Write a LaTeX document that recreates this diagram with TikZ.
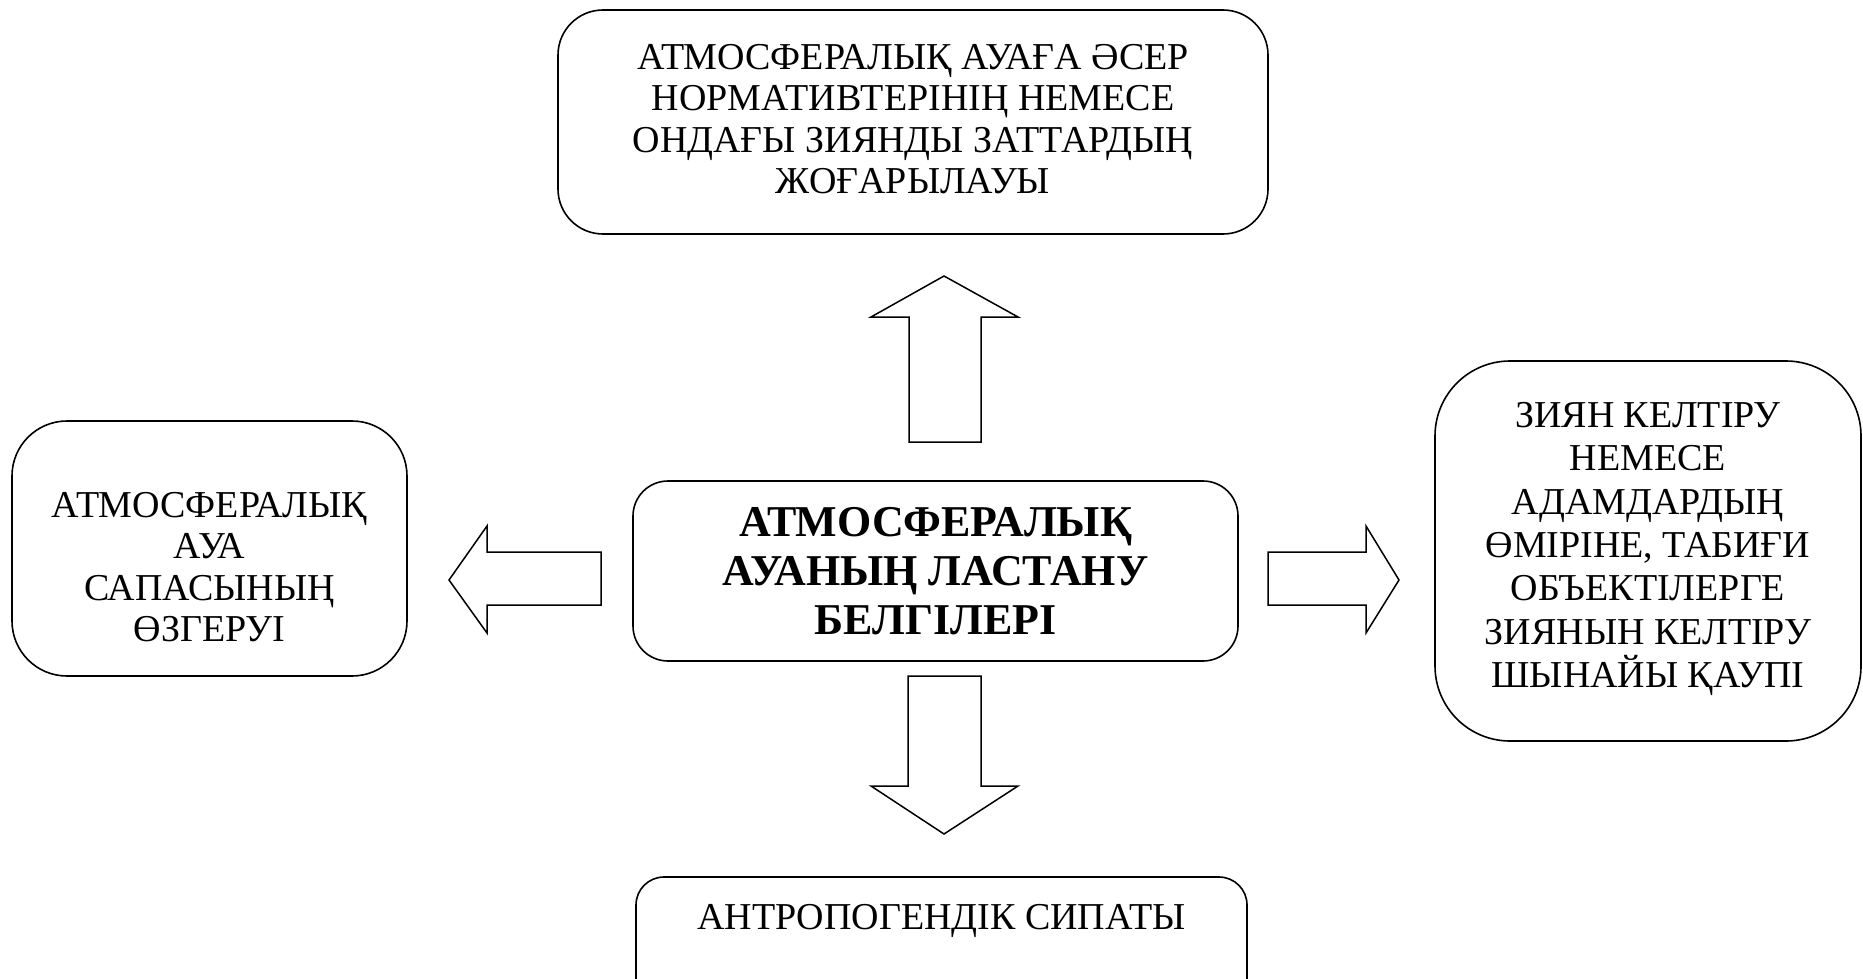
\documentclass[tikz,border=0pt]{standalone}
\usepackage{fontspec}
\setmainfont{Liberation Serif}
\tikzset{
  box/.style={draw, line width=1.6pt, rounded corners=#1, inner sep=0pt},
  boxtext/.style={align=center, font=\fontsize{38}{41.5}\selectfont, inner sep=0pt},
  blockarrow/.style={draw, line width=1.5pt, line join=miter, fill=white}
}
\begin{document}
\begin{tikzpicture}[x=1pt,y=-1pt]
\useasboundingbox (0,0) rectangle (1863,979);
% boxes
\node[box=45pt, minimum width=710pt, minimum height=224pt] (top) at (913,122) {};
\node[boxtext] (toptext) at (913,119) {АТМОСФЕРАЛЫҚ АУАҒА ӘСЕР\\НОРМАТИВТЕРІНІҢ НЕМЕСЕ\\ОНДАҒЫ ЗИЯНДЫ ЗАТТАРДЫҢ\\ЖОҒАРЫЛАУЫ};
\node[box=55pt, minimum width=395pt, minimum height=255pt] (left) at (209.5,548.5) {};
\node[boxtext] (lefttext) at (209.5,567) {АТМОСФЕРАЛЫҚ\\АУА\\САПАСЫНЫҢ\\ӨЗГЕРУІ};
\node[box=35pt, minimum width=605pt, minimum height=180pt] (center) at (935.5,571) {};
\node[boxtext, font=\fontsize{44}{49}\selectfont\bfseries] (centertext) at (935.5,571) {АТМОСФЕРАЛЫҚ\\АУАНЫҢ ЛАСТАНУ\\БЕЛГІЛЕРІ};
\node[box=75pt, minimum width=426pt, minimum height=380pt] (right) at (1648,551) {};
\node[boxtext, font=\fontsize{38}{43.4}\selectfont] (righttext) at (1648,549) {ЗИЯН КЕЛТІРУ\\НЕМЕСЕ\\АДАМДАРДЫҢ\\ӨМІРІНЕ, ТАБИҒИ\\ОБЪЕКТІЛЕРГЕ\\ЗИЯНЫН КЕЛТІРУ\\ШЫНАЙЫ ҚАУПІ};
\node[box=28pt, minimum width=611pt, minimum height=150pt] (bottom) at (941.5,952) {};
\node[boxtext] (bottomtext) at (941.5,921) {АНТРОПОГЕНДІК СИПАТЫ};
% block arrows
\draw[blockarrow] (909,442) -- (909,317) -- (871,317) -- (944,276) -- (1018,317) -- (981,317) -- (981,442) -- cycle;
\draw[blockarrow] (908,676) -- (981,676) -- (981,786) -- (1018,786) -- (944,834) -- (871,786) -- (908,786) -- cycle;
\draw[blockarrow] (601,552) -- (487,552) -- (487,526) -- (449,580) -- (487,633) -- (487,605) -- (601,605) -- cycle;
\draw[blockarrow] (1268,552) -- (1366,552) -- (1366,526) -- (1399,580) -- (1366,633) -- (1366,605) -- (1268,605) -- cycle;
\end{tikzpicture}
\end{document}
